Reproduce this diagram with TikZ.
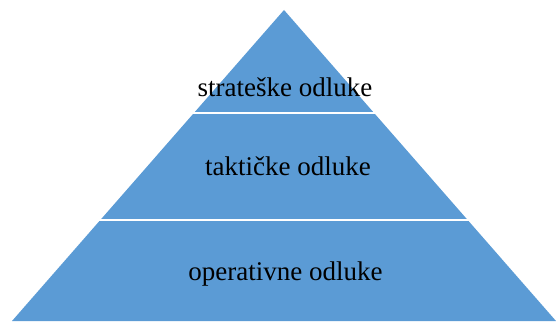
\documentclass[tikz,border=0pt]{standalone}
\usepackage{fontspec}
\setmainfont{Liberation Serif}
\definecolor{tierblue}{HTML}{5B9BD5}
\begin{document}
\begin{tikzpicture}[x=1pt,y=-1pt,
  tier/.style={anchor=base,font=\fontsize{27}{31}\selectfont,text=black,inner sep=0pt},
  gap/.style={draw=white,line width=2pt}]
\useasboundingbox (0,0) rectangle (556,321);
\begin{scope}
\clip (0,0) rectangle (556,321);
% pyramid body
\fill[tierblue] (284,10) -- (556,321) -- (12,321) -- cycle;
% white separators between the three levels
\draw[gap] (150,113) -- (420,113);
\draw[gap] (60,220) -- (510,220);
\end{scope}
% level labels
\node[tier] (strat) at (285,96) {strateške odluke};
\node[tier] (takt) at (288,175) {taktičke odluke};
\node[tier] (oper) at (285.5,280) {operativne odluke};
\end{tikzpicture}
\end{document}
